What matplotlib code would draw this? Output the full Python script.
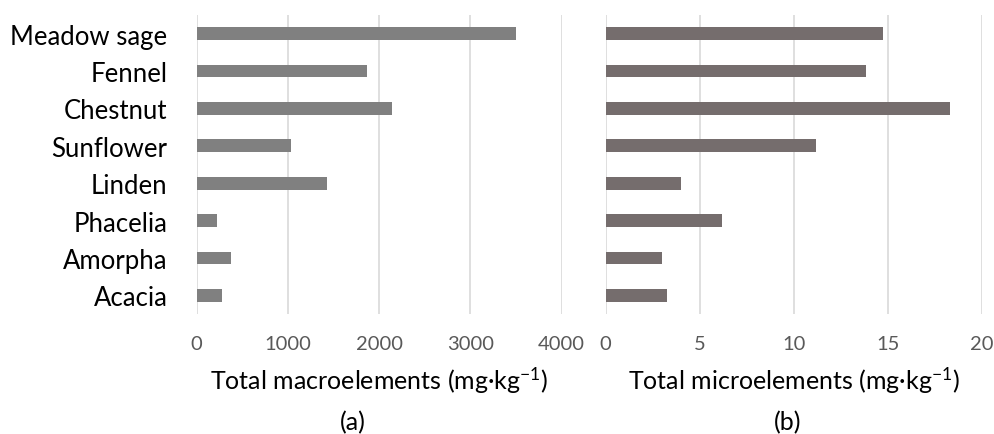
import matplotlib.pyplot as plt

plt.rcParams['font.family'] = ['Lato', 'DejaVu Sans']
plt.rcParams['mathtext.default'] = 'regular'

plants = ['Meadow sage', 'Fennel', 'Chestnut', 'Sunflower', 'Linden', 'Phacelia', 'Amorpha', 'Acacia']
macro = [3500, 1870, 2145, 1035, 1430, 220, 375, 275]
micro = [14.75, 13.83, 18.31, 11.19, 3.99, 6.19, 3.01, 3.26]

fig = plt.figure(figsize=(9.94, 4.35), dpi=100)
ax1 = fig.add_axes([0.1979, 0.2759, 0.3672, 0.6874])
ax2 = fig.add_axes([0.6093, 0.2759, 0.3783, 0.6874])

pos = range(len(plants))
ax1.barh(pos, macro, height=0.34, color='#808080')
ax2.barh(pos, micro, height=0.34, color='#756d6d')

for ax, lim, step in [(ax1, 4000, 1000), (ax2, 20, 5)]:
    ax.set_xlim(0, lim)
    ax.set_xticks(range(0, lim + 1, step))
    ax.set_ylim(7.5, -0.5)
    ax.grid(axis='x', color='#d9d9d9', linewidth=1.2)
    ax.set_axisbelow(True)
    for s in ax.spines.values():
        s.set_visible(False)
    ax.tick_params(axis='x', length=0, labelsize=14.5, labelcolor='#595959', pad=15)
    ax.tick_params(axis='y', length=0)

ax1.set_yticks(list(pos))
ax1.set_yticklabels(plants, fontsize=18.5)
ax1.tick_params(axis='y', pad=21)
ax2.set_yticks([])

ax1.set_xlabel('Total macroelements (mg·kg$^{-1}$)', fontsize=18, labelpad=9)
ax2.set_xlabel('Total microelements (mg·kg$^{-1}$)', fontsize=18, labelpad=9)
fig.text(0.355, 0.028, '(a)', fontsize=18, ha='center', va='center')
fig.text(0.792, 0.028, '(b)', fontsize=18, ha='center', va='center')

fig.savefig('out.png', dpi=100)
